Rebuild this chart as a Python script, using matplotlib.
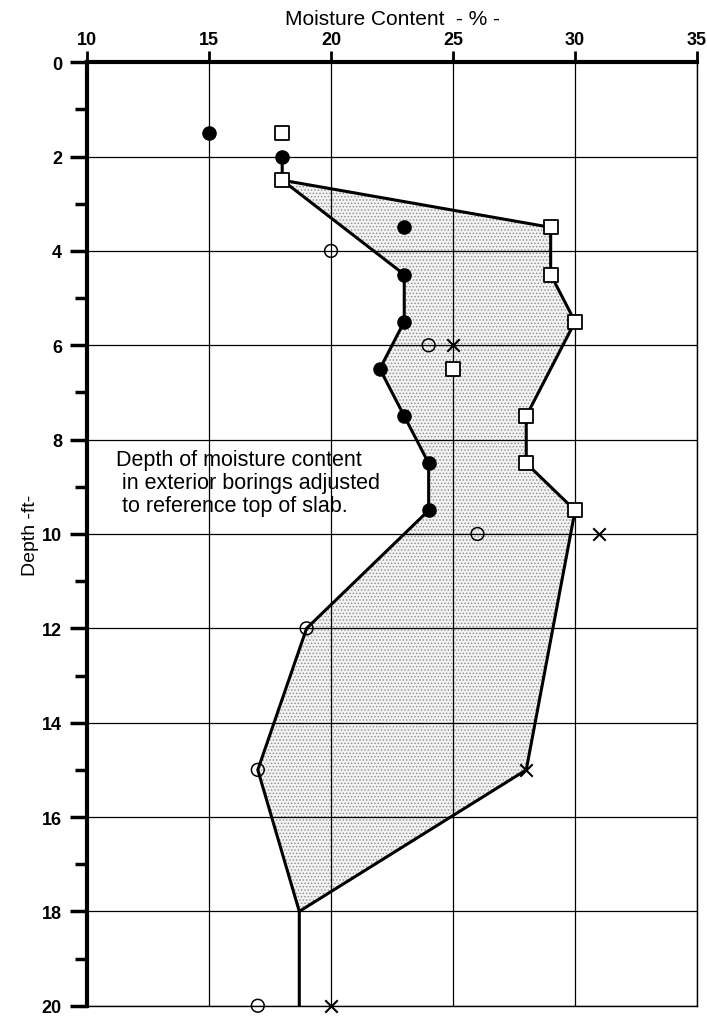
import numpy as np
import matplotlib
matplotlib.use("Agg")
from matplotlib import pyplot as plt
from matplotlib.ticker import MultipleLocator

plt.rcParams['font.family'] = ['Liberation Sans', 'DejaVu Sans']
plt.rcParams['hatch.linewidth'] = 0.6

# interior boring (filled circles)
interior_x = [15, 18, 23, 23, 23, 22, 23, 24, 24]
interior_depth = [1.5, 2.0, 3.5, 4.5, 5.5, 6.5, 7.5, 8.5, 9.5]
# squares
square_x = [18, 18, 29, 29, 30, 25, 28, 28, 30]
square_depth = [1.5, 2.5, 3.5, 4.5, 5.5, 6.5, 7.5, 8.5, 9.5]
# exterior borings (open circles and crosses)
open_x = [20, 24, 26, 19, 17, 17]
open_depth = [4, 6, 10, 12, 15, 20]
cross_x = [25, 31, 28, 20]
cross_depth = [6, 10, 15, 20]

# envelope lines
left_env_x = [18, 18, 23, 23, 22, 23, 24, 24, 19, 17, 18.7, 18.7]
left_env_depth = [2.0, 2.5, 4.5, 5.5, 6.5, 7.5, 8.5, 9.5, 12, 15, 18, 20]
right_env_x = [18, 29, 29, 30, 28, 28, 30, 28, 18.7]
right_env_depth = [2.5, 3.5, 4.5, 5.5, 7.5, 8.5, 9.5, 15, 18]

x_ticks = [10, 15, 20, 25, 30, 35]
y_ticks = list(range(0, 21, 2))

fig = plt.figure(figsize=(7.07, 10.2), dpi=100)
ax = fig.add_axes([0.123, 0.013, 0.863, 0.925])

# shaded band between the two envelopes
poly_x = right_env_x + left_env_x[1:11][::-1]
poly_y = right_env_depth + left_env_depth[1:11][::-1]
ax.fill(poly_x, poly_y, facecolor='#f2f2f2', edgecolor='#8a8a8a', hatch='.....', linewidth=0, zorder=1)

ax.plot(left_env_x, left_env_depth, color='black', lw=2.2, zorder=3)
ax.plot(right_env_x, right_env_depth, color='black', lw=2.2, zorder=3)

ax.scatter(interior_x, interior_depth, s=90, color='black', zorder=4, clip_on=False)
ax.scatter(square_x, square_depth, s=90, marker='s', facecolor='white', edgecolor='black', linewidth=1.3, zorder=4, clip_on=False)
ax.scatter(open_x, open_depth, s=85, marker='o', facecolor='none', edgecolor='black', linewidth=1.1, zorder=4, clip_on=False)
ax.scatter(cross_x, cross_depth, s=80, marker='x', color='black', linewidth=1.5, zorder=4, clip_on=False)

ax.set_xlim(10, 35)
ax.set_ylim(20, 0)
ax.xaxis.tick_top()
ax.xaxis.set_label_position('top')
ax.set_xticks(x_ticks)
ax.set_yticks(y_ticks)
ax.yaxis.set_minor_locator(MultipleLocator(1))
ax.grid(True, which='major', color='black', lw=0.9, zorder=0)

ax.tick_params(axis='y', which='major', direction='out', length=12, width=2.5, labelsize=13, pad=6)
ax.tick_params(axis='y', which='minor', direction='out', length=9, width=2.5)
ax.tick_params(axis='x', which='major', direction='out', length=8, width=2, labelsize=13, pad=2)
for lab in ax.get_xticklabels() + ax.get_yticklabels():
    lab.set_fontweight('bold')

ax.spines['left'].set_linewidth(3)
ax.spines['top'].set_linewidth(3)
ax.spines['right'].set_linewidth(1)
ax.spines['bottom'].set_linewidth(1)

ax.set_xlabel('Moisture Content  - % -', fontsize=15, labelpad=5)
ax.set_ylabel('Depth -ft-', fontsize=14, labelpad=2)

ax.text(11.2, 8.2, 'Depth of moisture content\n in exterior borings adjusted\n to reference top of slab.',
        fontsize=15.5, va='top', ha='left', linespacing=1.12, zorder=5)

plt.savefig('out.png', dpi=100)
